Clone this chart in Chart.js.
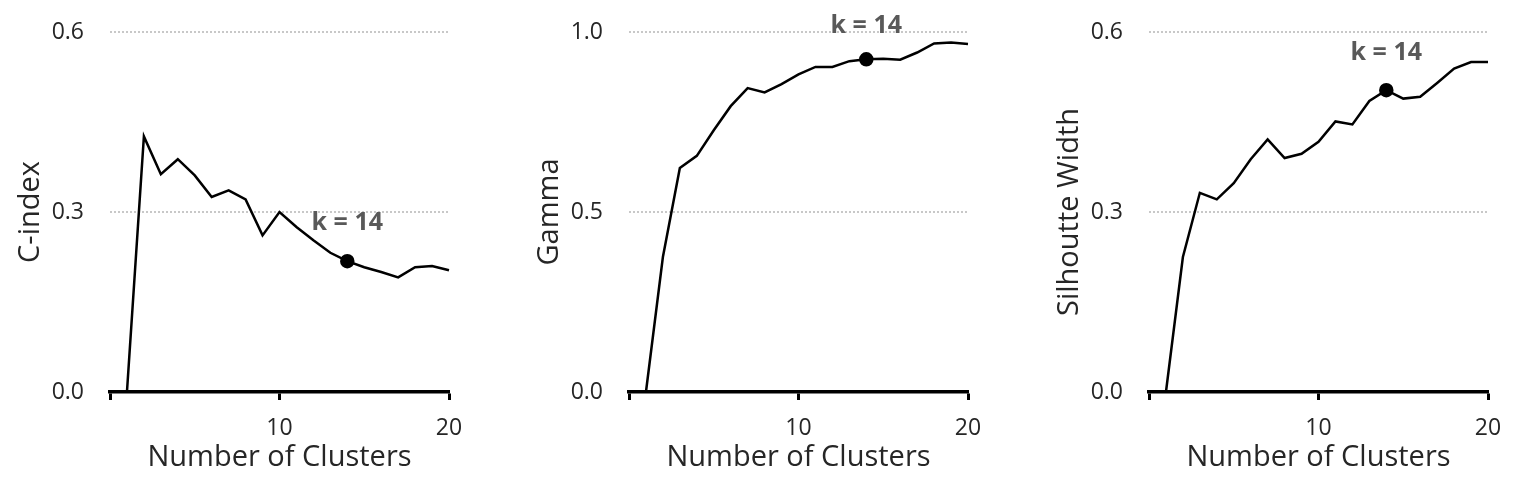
<!DOCTYPE html>
<html>
<head>
<meta charset="utf-8">
<script src="https://cdn.jsdelivr.net/npm/chart.js@4"></script>
<style>
  body { margin: 0; background: #fff; overflow: hidden; }
  #wrap { position: relative; width: 1533px; height: 500px; }
  #wrap canvas { position: absolute; top: 0; }
</style>
</head>
<body>
<div id="wrap">
  <canvas id="c1" width="494" height="500" style="left:0px"></canvas>
  <canvas id="c2" width="494" height="500" style="left:519px"></canvas>
  <canvas id="c3" width="494" height="500" style="left:1039px"></canvas>
</div>
<script>
const clusters = [1, 2, 3, 4, 5, 6, 7, 8, 9, 10, 11, 12, 13, 14, 15, 16, 17, 18, 19, 20];
const cIndex = [0, 0.426, 0.363, 0.388, 0.361, 0.325, 0.336, 0.321, 0.261, 0.300, 0.275, 0.253, 0.232, 0.218, 0.208, 0.200, 0.191, 0.208, 0.210, 0.203];
const gamma = [0, 0.375, 0.622, 0.656, 0.727, 0.794, 0.844, 0.832, 0.855, 0.882, 0.903, 0.903, 0.919, 0.924, 0.926, 0.923, 0.943, 0.968, 0.971, 0.967];
const silhouette = [0, 0.225, 0.332, 0.321, 0.348, 0.388, 0.421, 0.390, 0.397, 0.417, 0.451, 0.446, 0.485, 0.503, 0.489, 0.492, 0.515, 0.539, 0.550, 0.550];
const chosenK = 14;
const chosenLabel = 'k = 14';

const FONT = "'Open Sans', 'Noto Sans', sans-serif";

// writes "k = 14" above the highlighted point
const kLabel = {
  id: 'kLabel',
  afterDatasetsDraw(chart, args, opts) {
    const meta = chart.getDatasetMeta(0);
    const pt = meta.data[clusters.indexOf(chosenK)];
    const ctx = chart.ctx;
    ctx.save();
    ctx.font = "bold 25px " + FONT;
    ctx.fillStyle = '#595959';
    ctx.textAlign = 'center';
    ctx.textBaseline = 'alphabetic';
    ctx.fillText(chosenLabel, pt.x, pt.y - (opts.lift || 31));
    ctx.restore();
  }
};

function makeChart(id, values, yTitle, yMax, yStep, lift) {
  const data = clusters.map((k, i) => ({ x: k, y: values[i] }));
  return new Chart(document.getElementById(id), {
    type: 'line',
    data: {
      datasets: [{
        data: data,
        borderColor: '#000',
        backgroundColor: '#000',
        borderWidth: 2.5,
        tension: 0,
        pointRadius: clusters.map(k => k === chosenK ? 6 : 0),
        pointHoverRadius: 0,
        clip: false
      }]
    },
    options: {
      responsive: false,
      devicePixelRatio: 1,
      animation: false,
      layout: { padding: { left: 13, right: 45, top: 32, bottom: 8 } },
      plugins: {
        legend: { display: false },
        tooltip: { enabled: false },
        kLabel: { lift: lift }
      },
      scales: {
        x: {
          type: 'linear',
          min: 0,
          max: 20,
          afterFit: s => { s.height = 100; },
          ticks: {
            stepSize: 10,
            padding: 15,
            color: '#262626',
            font: { family: FONT, size: 23 },
            maxRotation: 0,
            callback: v => v === 0 ? '' : v
          },
          grid: {
            drawOnChartArea: false,
            drawTicks: true,
            tickLength: 8,
            tickColor: '#000',
            tickWidth: 3
          },
          border: { display: true, color: '#000', width: 3.5 },
          title: {
            display: true,
            text: 'Number of Clusters',
            color: '#262626',
            font: { family: FONT, size: 29 },
            padding: { top: 0, bottom: 17 }
          }
        },
        y: {
          min: 0,
          max: yMax,
          // ticks.padding would otherwise push the plot area down
          afterFit: s => { s.width = 97; s.paddingTop = 0; s.paddingBottom = 0; },
          ticks: {
            stepSize: yStep,
            padding: 26,
            color: '#262626',
            font: { family: FONT, size: 23 },
            callback: v => Number(v).toFixed(1)
          },
          grid: {
            drawTicks: false,
            lineWidth: 2,
            color: c => c.tick && c.tick.value === 0 ? 'rgba(0,0,0,0)' : '#c8c8c8'
          },
          border: { display: false, dash: [2, 2] },
          title: {
            display: true,
            text: yTitle,
            color: '#262626',
            font: { family: FONT, size: 29 },
            padding: { top: 0, bottom: 0 }
          }
        }
      }
    },
    plugins: [kLabel]
  });
}

makeChart('c1', cIndex, 'C-index', 0.6, 0.3, 31);
makeChart('c2', gamma, 'Gamma', 1.0, 0.5, 26);
makeChart('c3', silhouette, 'Silhoutte Width', 0.6, 0.3, 30);
</script>
</body>
</html>
